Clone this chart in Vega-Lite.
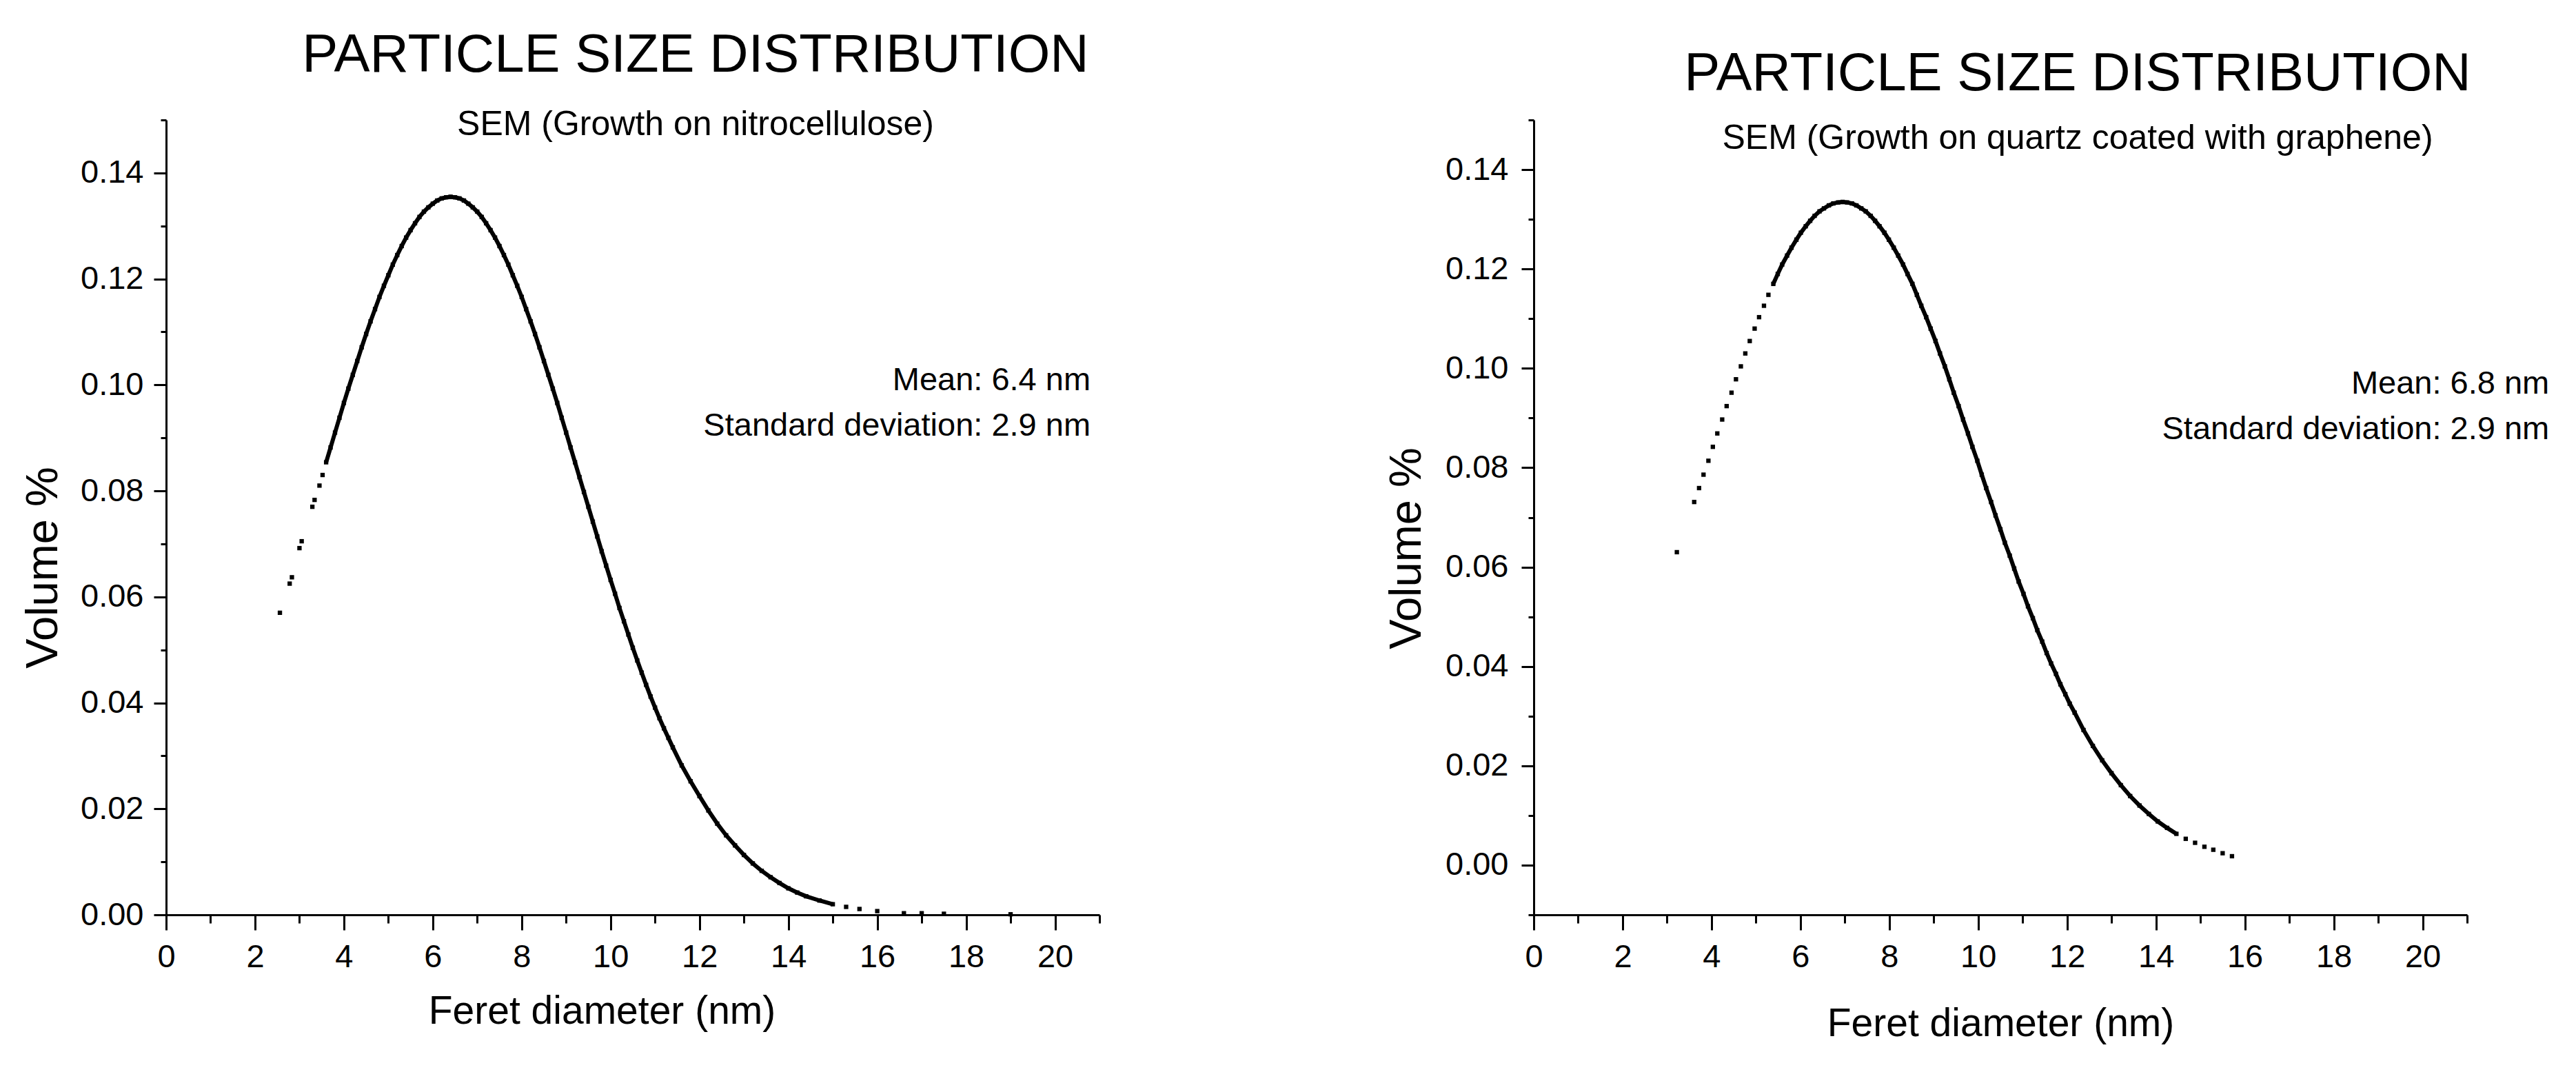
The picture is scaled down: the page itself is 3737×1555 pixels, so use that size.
{
  "$schema": "https://vega.github.io/schema/vega-lite/v6.json",
  "padding": {"left": 30, "top": 41, "right": 5, "bottom": 5},
  "background": "white",
  "config": {
    "view": {"stroke": null},
    "font": "Liberation Sans",
    "axis": {
      "grid": false,
      "domainColor": "black",
      "domainWidth": 3,
      "tickColor": "black",
      "tickWidth": 3,
      "labelColor": "black",
      "labelFont": "Liberation Sans",
      "labelFontSize": 47,
      "labelFlush": false,
      "labelOverlap": false,
      "titleFont": "Liberation Sans",
      "titleFontSize": 57,
      "titleFontWeight": "normal",
      "titleColor": "black"
    },
    "title": {
      "font": "Liberation Sans",
      "fontSize": 78,
      "fontWeight": "normal",
      "color": "black",
      "subtitleFont": "Liberation Sans",
      "subtitleFontSize": 50,
      "subtitleColor": "black",
      "frame": "group",
      "anchor": "middle"
    }
  },
  "datasets": {
    "left": [
      {"x": 2.56, "y": 0.0570}, {"x": 2.78, "y": 0.0625}, {"x": 2.83, "y": 0.0637}, {"x": 3.00, "y": 0.0692}, {"x": 3.05, "y": 0.0705},
      {"x": 3.29, "y": 0.0770}, {"x": 3.34, "y": 0.0783}, {"x": 3.45, "y": 0.0810}, {"x": 3.52, "y": 0.0830},
      {"x": 3.6, "y": 0.0854}, {"x": 3.7, "y": 0.0882}, {"x": 3.8, "y": 0.0910}, {"x": 3.9, "y": 0.0938}, {"x": 4.0, "y": 0.0966},
      {"x": 4.1, "y": 0.0993}, {"x": 4.2, "y": 0.1019}, {"x": 4.3, "y": 0.1045}, {"x": 4.4, "y": 0.1071}, {"x": 4.5, "y": 0.1096},
      {"x": 4.6, "y": 0.1120}, {"x": 4.7, "y": 0.1143}, {"x": 4.8, "y": 0.1166}, {"x": 4.9, "y": 0.1187}, {"x": 5.0, "y": 0.1207},
      {"x": 5.1, "y": 0.1227}, {"x": 5.2, "y": 0.1245}, {"x": 5.3, "y": 0.1262}, {"x": 5.4, "y": 0.1278}, {"x": 5.5, "y": 0.1292},
      {"x": 5.6, "y": 0.1305}, {"x": 5.7, "y": 0.1317}, {"x": 5.8, "y": 0.1327}, {"x": 5.9, "y": 0.1335}, {"x": 6.0, "y": 0.1342},
      {"x": 6.1, "y": 0.1348}, {"x": 6.2, "y": 0.1352}, {"x": 6.3, "y": 0.1354}, {"x": 6.4, "y": 0.1355}, {"x": 6.5, "y": 0.1354},
      {"x": 6.6, "y": 0.1352}, {"x": 6.7, "y": 0.1348}, {"x": 6.8, "y": 0.1342}, {"x": 6.9, "y": 0.1335}, {"x": 7.0, "y": 0.1327},
      {"x": 7.1, "y": 0.1317}, {"x": 7.2, "y": 0.1305}, {"x": 7.3, "y": 0.1292}, {"x": 7.4, "y": 0.1278}, {"x": 7.5, "y": 0.1262},
      {"x": 7.6, "y": 0.1245}, {"x": 7.7, "y": 0.1227}, {"x": 7.8, "y": 0.1207}, {"x": 7.9, "y": 0.1187}, {"x": 8.0, "y": 0.1166},
      {"x": 8.1, "y": 0.1143}, {"x": 8.2, "y": 0.1120}, {"x": 8.3, "y": 0.1096}, {"x": 8.4, "y": 0.1071}, {"x": 8.5, "y": 0.1045},
      {"x": 8.6, "y": 0.1019}, {"x": 8.7, "y": 0.0993}, {"x": 8.8, "y": 0.0966}, {"x": 8.9, "y": 0.0938}, {"x": 9.0, "y": 0.0910},
      {"x": 9.1, "y": 0.0882}, {"x": 9.2, "y": 0.0854}, {"x": 9.3, "y": 0.0826}, {"x": 9.4, "y": 0.0798}, {"x": 9.5, "y": 0.0770},
      {"x": 9.6, "y": 0.0742}, {"x": 9.7, "y": 0.0714}, {"x": 9.8, "y": 0.0686}, {"x": 9.9, "y": 0.0659}, {"x": 10.0, "y": 0.0632},
      {"x": 10.1, "y": 0.0606}, {"x": 10.2, "y": 0.0579}, {"x": 10.3, "y": 0.0554}, {"x": 10.4, "y": 0.0529}, {"x": 10.5, "y": 0.0504},
      {"x": 10.6, "y": 0.0480}, {"x": 10.7, "y": 0.0457}, {"x": 10.8, "y": 0.0434}, {"x": 10.9, "y": 0.0412}, {"x": 11.0, "y": 0.0391},
      {"x": 11.1, "y": 0.0371}, {"x": 11.2, "y": 0.0352}, {"x": 11.3, "y": 0.0334}, {"x": 11.4, "y": 0.0316}, {"x": 11.6, "y": 0.0282},
      {"x": 11.8, "y": 0.0252}, {"x": 12.0, "y": 0.0224}, {"x": 12.2, "y": 0.0197}, {"x": 12.4, "y": 0.0172}, {"x": 12.6, "y": 0.0150},
      {"x": 12.8, "y": 0.0131}, {"x": 13.0, "y": 0.0113}, {"x": 13.2, "y": 0.0097}, {"x": 13.4, "y": 0.0083}, {"x": 13.6, "y": 0.0071},
      {"x": 13.8, "y": 0.0060}, {"x": 14.0, "y": 0.0050}, {"x": 14.2, "y": 0.0042}, {"x": 14.4, "y": 0.0035}, {"x": 14.7, "y": 0.0027},
      {"x": 15.0, "y": 0.0020}, {"x": 15.3, "y": 0.0015}, {"x": 15.6, "y": 0.0011}, {"x": 16.0, "y": 0.0007}, {"x": 16.6, "y": 0.0003},
      {"x": 17.0, "y": 0.0003}, {"x": 17.5, "y": 0.0002}, {"x": 19.0, "y": 0.0001}
    ],
    "right": [
      {"x": 3.22, "y": 0.0630},
      {"x": 3.61, "y": 0.0731}, {"x": 3.72, "y": 0.0759}, {"x": 3.82, "y": 0.0786}, {"x": 3.93, "y": 0.0814}, {"x": 4.03, "y": 0.0842},
      {"x": 4.13, "y": 0.0869}, {"x": 4.24, "y": 0.0897}, {"x": 4.34, "y": 0.0924}, {"x": 4.45, "y": 0.0951}, {"x": 4.55, "y": 0.0978},
      {"x": 4.66, "y": 0.1004}, {"x": 4.76, "y": 0.1030}, {"x": 4.86, "y": 0.1055}, {"x": 4.97, "y": 0.1080}, {"x": 5.07, "y": 0.1103},
      {"x": 5.18, "y": 0.1126}, {"x": 5.28, "y": 0.1148}, {"x": 5.39, "y": 0.1170}, {"x": 5.49, "y": 0.1190}, {"x": 5.59, "y": 0.1209},
      {"x": 5.70, "y": 0.1227}, {"x": 5.80, "y": 0.1243}, {"x": 5.91, "y": 0.1259}, {"x": 6.01, "y": 0.1273}, {"x": 6.12, "y": 0.1286},
      {"x": 6.22, "y": 0.1297}, {"x": 6.32, "y": 0.1307}, {"x": 6.43, "y": 0.1316}, {"x": 6.53, "y": 0.1322}, {"x": 6.64, "y": 0.1328},
      {"x": 6.74, "y": 0.1332}, {"x": 6.85, "y": 0.1334}, {"x": 6.95, "y": 0.1335}, {"x": 7.05, "y": 0.1334}, {"x": 7.16, "y": 0.1332},
      {"x": 7.26, "y": 0.1328}, {"x": 7.37, "y": 0.1322}, {"x": 7.47, "y": 0.1316}, {"x": 7.58, "y": 0.1307}, {"x": 7.68, "y": 0.1297},
      {"x": 7.78, "y": 0.1286}, {"x": 7.89, "y": 0.1273}, {"x": 7.99, "y": 0.1259}, {"x": 8.10, "y": 0.1243}, {"x": 8.20, "y": 0.1227},
      {"x": 8.31, "y": 0.1209}, {"x": 8.41, "y": 0.1190}, {"x": 8.52, "y": 0.1170}, {"x": 8.62, "y": 0.1148}, {"x": 8.72, "y": 0.1126},
      {"x": 8.83, "y": 0.1103}, {"x": 8.93, "y": 0.1080}, {"x": 9.04, "y": 0.1055}, {"x": 9.14, "y": 0.1030}, {"x": 9.25, "y": 0.1004},
      {"x": 9.35, "y": 0.0978}, {"x": 9.45, "y": 0.0951}, {"x": 9.56, "y": 0.0924}, {"x": 9.66, "y": 0.0897}, {"x": 9.77, "y": 0.0869},
      {"x": 9.87, "y": 0.0842}, {"x": 9.98, "y": 0.0814}, {"x": 10.08, "y": 0.0786}, {"x": 10.18, "y": 0.0759}, {"x": 10.29, "y": 0.0731},
      {"x": 10.39, "y": 0.0704}, {"x": 10.50, "y": 0.0676}, {"x": 10.60, "y": 0.0649}, {"x": 10.71, "y": 0.0623}, {"x": 10.81, "y": 0.0597},
      {"x": 10.91, "y": 0.0571}, {"x": 11.02, "y": 0.0546}, {"x": 11.12, "y": 0.0521}, {"x": 11.23, "y": 0.0497}, {"x": 11.33, "y": 0.0473},
      {"x": 11.44, "y": 0.0450}, {"x": 11.54, "y": 0.0427}, {"x": 11.64, "y": 0.0406}, {"x": 11.75, "y": 0.0385}, {"x": 11.85, "y": 0.0364},
      {"x": 11.96, "y": 0.0344}, {"x": 12.06, "y": 0.0325}, {"x": 12.17, "y": 0.0307}, {"x": 12.37, "y": 0.0272}, {"x": 12.58, "y": 0.0240},
      {"x": 12.79, "y": 0.0211}, {"x": 13.00, "y": 0.0185}, {"x": 13.21, "y": 0.0161}, {"x": 13.42, "y": 0.0139}, {"x": 13.63, "y": 0.0120},
      {"x": 13.84, "y": 0.0103}, {"x": 14.04, "y": 0.0088}, {"x": 14.25, "y": 0.0075}, {"x": 14.46, "y": 0.0063}, {"x": 14.67, "y": 0.0053},
      {"x": 14.88, "y": 0.0045}, {"x": 15.09, "y": 0.0037}, {"x": 15.29, "y": 0.0031}, {"x": 15.50, "y": 0.0024}, {"x": 15.71, "y": 0.0018}
    ]
  },
  "spacing": 630,
  "bounds": "flush",
  "hconcat": [
    {
      "width": 1354,
      "height": 1153,
      "title": {"text": "PARTICLE SIZE DISTRIBUTION", "subtitle": "SEM (Growth on nitrocellulose)", "dx": 91, "offset": -33, "subtitlePadding": 36},
      "data": {"name": "left"},
      "layer": [
        {
          "transform": [{"filter": "datum.x >= 3.55 && datum.x <= 15.1"}],
          "mark": {"type": "line", "color": "black", "strokeWidth": 6},
          "encoding": {
            "x": {"field": "x", "type": "quantitative", "scale": {"domain": [0, 21], "nice": false, "zero": false},
                  "axis": {"orient": "bottom", "values": [1, 3, 5, 7, 9, 11, 13, 15, 17, 19, 21], "labels": false, "domain": false, "tickSize": 12, "title": null}},
            "y": {"field": "y", "type": "quantitative", "scale": {"domain": [0, 0.15], "nice": false},
                  "axis": {"orient": "left", "values": [0.01, 0.03, 0.05, 0.07, 0.09, 0.11, 0.13, 0.15], "labels": false, "domain": false, "tickSize": 8, "title": null}}
          }
        },
        {
          "mark": {"type": "point", "filled": true, "shape": "square", "size": 40, "color": "black", "opacity": 1},
          "encoding": {
            "x": {"field": "x", "type": "quantitative",
                  "axis": {"orient": "bottom", "values": [0, 2, 4, 6, 8, 10, 12, 14, 16, 18, 20], "format": "d", "tickSize": 22, "labelPadding": 16,
                           "title": "Feret diameter (nm)", "titlePadding": 28, "titleX": 632}},
            "y": {"field": "y", "type": "quantitative",
                  "axis": {"orient": "left", "values": [0, 0.02, 0.04, 0.06, 0.08, 0.1, 0.12, 0.14], "format": ".2f", "tickSize": 18, "labelPadding": 15,
                           "title": "Volume %", "titleFontSize": 65, "titlePadding": 20, "titleY": 649}}
          }
        },
        {
          "data": {"values": [{}]},
          "mark": {"type": "text", "align": "right", "baseline": "alphabetic", "fontSize": 47, "font": "Liberation Sans", "lineHeight": 66, "color": "black"},
          "encoding": {
            "x": {"datum": 20.8, "type": "quantitative", "axis": null},
            "y": {"datum": 0.099, "type": "quantitative", "axis": null},
            "text": {"value": ["Mean: 6.4 nm", "Standard deviation: 2.9 nm"]}
          }
        }
      ],
      "resolve": {"axis": {"x": "independent", "y": "independent"}}
    },
    {
      "width": 1354,
      "height": 1153,
      "title": {"text": "PARTICLE SIZE DISTRIBUTION", "subtitle": "SEM (Growth on quartz coated with graphene)", "dx": 112, "offset": -53, "subtitlePadding": 29},
      "data": {"name": "right"},
      "layer": [
        {
          "transform": [{"filter": "datum.x >= 5.3 && datum.x <= 14.5"}],
          "mark": {"type": "line", "color": "black", "strokeWidth": 6},
          "encoding": {
            "x": {"field": "x", "type": "quantitative", "scale": {"domain": [0, 21], "nice": false, "zero": false},
                  "axis": {"orient": "bottom", "values": [1, 3, 5, 7, 9, 11, 13, 15, 17, 19, 21], "labels": false, "domain": false, "tickSize": 12, "title": null}},
            "y": {"field": "y", "type": "quantitative", "scale": {"domain": [-0.01, 0.15], "nice": false, "zero": false},
                  "axis": {"orient": "left", "values": [-0.01, 0.01, 0.03, 0.05, 0.07, 0.09, 0.11, 0.13, 0.15], "labels": false, "domain": false, "tickSize": 8, "title": null}}
          }
        },
        {
          "mark": {"type": "point", "filled": true, "shape": "square", "size": 40, "color": "black", "opacity": 1},
          "encoding": {
            "x": {"field": "x", "type": "quantitative",
                  "axis": {"orient": "bottom", "values": [0, 2, 4, 6, 8, 10, 12, 14, 16, 18, 20], "format": "d", "tickSize": 22, "labelPadding": 16,
                           "title": "Feret diameter (nm)", "titlePadding": 46}},
            "y": {"field": "y", "type": "quantitative",
                  "axis": {"orient": "left", "values": [0, 0.02, 0.04, 0.06, 0.08, 0.1, 0.12, 0.14], "format": ".2f", "tickSize": 18, "labelPadding": 19,
                           "title": "Volume %", "titleFontSize": 65, "titlePadding": 22, "titleY": 621}}
          }
        },
        {
          "data": {"values": [{}]},
          "mark": {"type": "text", "align": "right", "baseline": "alphabetic", "fontSize": 47, "font": "Liberation Sans", "lineHeight": 66, "color": "black"},
          "encoding": {
            "x": {"datum": 22.85, "type": "quantitative", "axis": null},
            "y": {"datum": 0.0949, "type": "quantitative", "axis": null},
            "text": {"value": ["Mean: 6.8 nm", "Standard deviation: 2.9 nm"]}
          }
        }
      ],
      "resolve": {"axis": {"x": "independent", "y": "independent"}}
    }
  ]
}
